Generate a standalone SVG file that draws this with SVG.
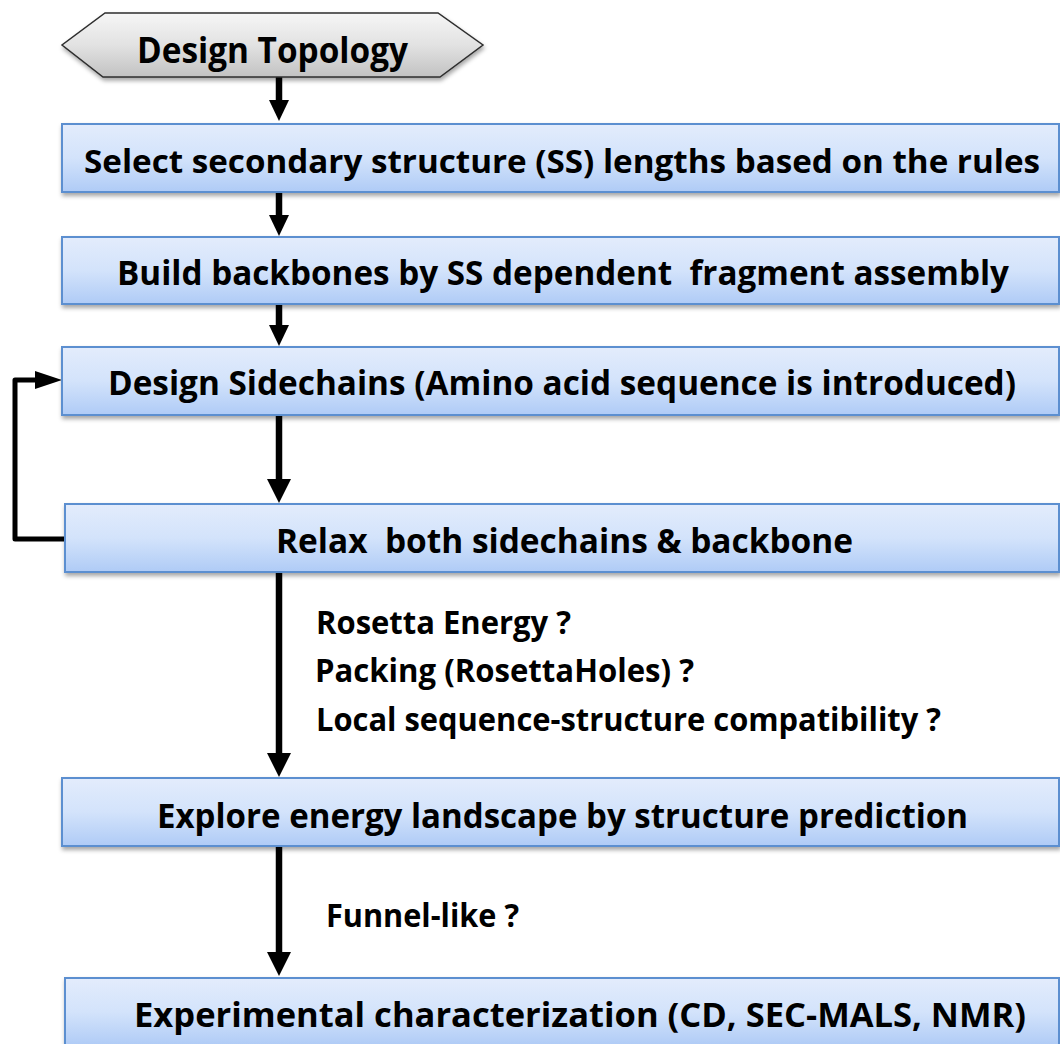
<svg xmlns="http://www.w3.org/2000/svg" width="1060" height="1044" viewBox="0 0 1060 1044">
  <style>
    .box { fill: url(#blueFill); stroke: #5b8fd0; stroke-width: 2; filter: url(#shadow); }
    .hex { fill: url(#greyFill); stroke: #2e2e2e; stroke-width: 1.5; filter: url(#shadow); }
    .t { font-family: "Open Sans", "Noto Sans", "Liberation Sans", sans-serif; font-weight: bold; fill: #000; }
    .bt { font-size: 34px; }
    .bt-long { font-size: 32px; }
    .lt { font-size: 32px; }
    .ht { font-size: 36px; }
    .arrow { stroke: #000; stroke-width: 6.5; fill: none; }
    .loop { stroke: #000; stroke-width: 5; fill: none; stroke-linejoin: round; }
  </style>
  <defs>
    <linearGradient id="blueFill" x1="0" y1="0" x2="0" y2="1">
      <stop offset="0" stop-color="#e3ecfc"/>
      <stop offset="0.5" stop-color="#d3e3fb"/>
      <stop offset="1" stop-color="#afcbf6"/>
    </linearGradient>
    <linearGradient id="greyFill" x1="0" y1="0" x2="0" y2="1">
      <stop offset="0" stop-color="#f6f6f6"/>
      <stop offset="0.5" stop-color="#e2e2e2"/>
      <stop offset="1" stop-color="#c2c2c2"/>
    </linearGradient>
    <filter id="shadow" x="-5%" y="-20%" width="110%" height="150%">
      <feDropShadow dx="1" dy="3" stdDeviation="2" flood-color="#000" flood-opacity="0.35"/>
    </filter>
    <!-- arrowheads sit partly past the line end so the tip stays sharp -->
    <marker id="head" markerUnits="userSpaceOnUse" markerWidth="24" markerHeight="24" viewBox="0 0 24 24" refX="8" refY="12" orient="auto">
      <path d="M0,0 L24,12 L0,24 Z" fill="#000"/>
    </marker>
    <marker id="headSmall" markerUnits="userSpaceOnUse" markerWidth="21" markerHeight="20" viewBox="0 0 21 20" refX="7" refY="10" orient="auto">
      <path d="M0,0 L21,10 L0,20 Z" fill="#000"/>
    </marker>
    <marker id="headLoop" markerUnits="userSpaceOnUse" markerWidth="27" markerHeight="18" viewBox="0 0 27 18" refX="9" refY="9" orient="auto">
      <path d="M0,0 L27,9 L0,18 Z" fill="#000"/>
    </marker>
  </defs>

  <rect width="1060" height="1044" fill="#fff"/>

  <!-- flow connectors -->
  <g id="connectors">
    <line class="arrow" x1="279" y1="77" x2="279" y2="107" marker-end="url(#headSmall)"/>
    <line class="arrow" x1="279" y1="193" x2="279" y2="222" marker-end="url(#headSmall)"/>
    <line class="arrow" x1="279" y1="305" x2="279" y2="332" marker-end="url(#headSmall)"/>
    <line class="arrow" x1="279" y1="416" x2="279" y2="487" marker-end="url(#head)"/>
    <line class="arrow" x1="279" y1="573" x2="279" y2="761" marker-end="url(#head)"/>
    <line class="arrow" x1="279" y1="847" x2="279" y2="960" marker-end="url(#head)"/>
    <!-- feedback loop: relax back to sidechain design -->
    <path class="loop" d="M65,539 L15,539 L15,380 L44,380" marker-end="url(#headLoop)"/>
  </g>

  <g id="design-topology">
    <polygon class="hex" points="105,13 438,13 483,45 440,77 103,77 62,45"/>
    <text class="t ht" x="137" y="63" textLength="271" lengthAdjust="spacingAndGlyphs">Design Topology</text>
  </g>

  <g id="select-ss">
    <rect class="box" x="62" y="124" width="997" height="68"/>
    <text class="t bt-long" x="84" y="173" textLength="956" lengthAdjust="spacingAndGlyphs">Select secondary structure (SS) lengths based on the rules</text>
  </g>

  <g id="build-backbones">
    <rect class="box" x="62" y="237" width="997" height="67"/>
    <text class="t bt" x="117" y="285" textLength="892" lengthAdjust="spacingAndGlyphs" xml:space="preserve">Build backbones by SS dependent  fragment assembly</text>
  </g>

  <g id="design-sidechains">
    <rect class="box" x="62" y="347" width="997" height="68"/>
    <text class="t bt" x="108" y="395" textLength="908" lengthAdjust="spacingAndGlyphs">Design Sidechains (Amino acid sequence is introduced)</text>
  </g>

  <g id="relax">
    <rect class="box" x="65" y="504" width="994" height="68"/>
    <text class="t bt" x="276" y="553" textLength="577" lengthAdjust="spacingAndGlyphs" xml:space="preserve">Relax  both sidechains &amp; backbone</text>
  </g>

  <g id="filters">
    <text class="t lt" x="316" y="634" textLength="255" lengthAdjust="spacingAndGlyphs">Rosetta Energy ?</text>
    <text class="t lt" x="315" y="682" textLength="379" lengthAdjust="spacingAndGlyphs">Packing (RosettaHoles) ?</text>
    <text class="t lt" x="316" y="731" textLength="625" lengthAdjust="spacingAndGlyphs">Local sequence-structure compatibility ?</text>
  </g>

  <g id="explore-landscape">
    <rect class="box" x="62" y="778" width="997" height="68"/>
    <text class="t bt" x="157" y="828" textLength="811" lengthAdjust="spacingAndGlyphs">Explore energy landscape by structure prediction</text>
  </g>

  <g id="funnel-check">
    <text class="t lt" x="326" y="927" textLength="193" lengthAdjust="spacingAndGlyphs">Funnel-like ?</text>
  </g>

  <g id="experimental">
    <rect class="box" x="65" y="978" width="994" height="68"/>
    <text class="t bt" x="134" y="1027" textLength="892" lengthAdjust="spacingAndGlyphs">Experimental characterization (CD, SEC-MALS, NMR)</text>
  </g>
</svg>
